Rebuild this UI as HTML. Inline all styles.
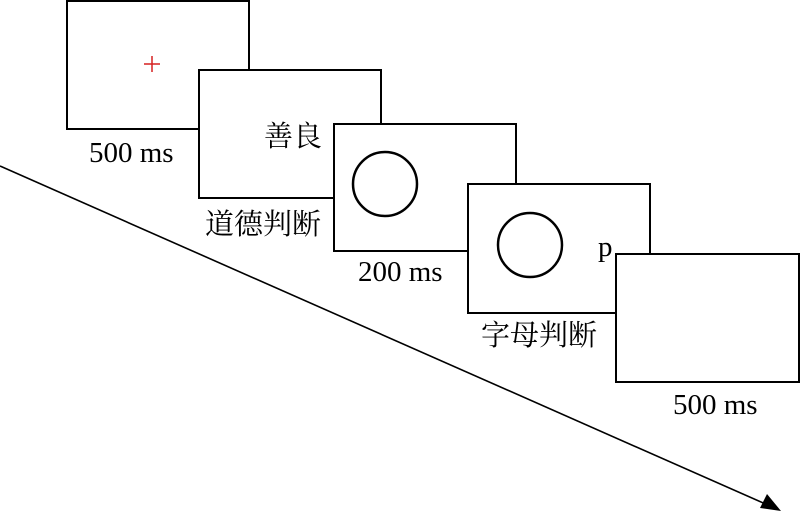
<!DOCTYPE html>
<html><head><meta charset="utf-8"><style>
html,body{margin:0;padding:0;background:#fff;}
svg{display:block;}
text{font-family:"Liberation Serif","Noto Serif CJK SC",serif;font-size:29px;fill:#000;}
</style></head><body>
<svg width="800" height="512" viewBox="0 0 800 512" xmlns="http://www.w3.org/2000/svg">
<line x1="0" y1="166" x2="770" y2="506" stroke="#000" stroke-width="1.6"/>
<polygon points="781,511 760,508 767,494" fill="#000"/>
<g fill="#fff" stroke="#000" stroke-width="2">
<rect x="67" y="1" width="182" height="128"/>
<rect x="199" y="70" width="182" height="128"/>
<rect x="334" y="124" width="182" height="127"/>
<rect x="468" y="184" width="182" height="129"/>
<rect x="616" y="254" width="183" height="128"/>
</g>
<g stroke="#d62020" stroke-width="1.5"><line x1="144" y1="64" x2="160" y2="64"/><line x1="152" y1="56" x2="152" y2="72"/></g>
<g fill="none" stroke="#000" stroke-width="2.5">
<circle cx="385" cy="184" r="32"/>
<circle cx="530" cy="245" r="32"/>
</g>
<text x="89" y="162">500 ms</text>
<text x="264" y="146">善良</text>
<text x="205" y="234">道德判断</text>
<text x="358" y="281">200 ms</text>
<text x="598" y="256">p</text>
<text x="481" y="345">字母判断</text>
<text x="673" y="414">500 ms</text>
</svg>
</body></html>
